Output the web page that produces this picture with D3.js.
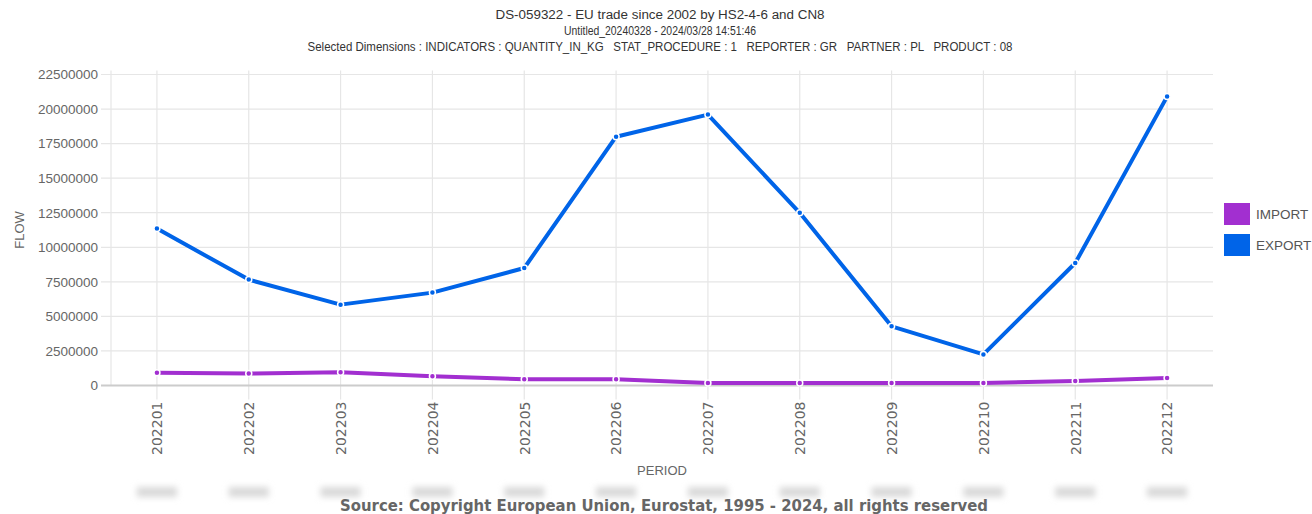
<!DOCTYPE html>
<html>
<head>
<meta charset="utf-8">
<script src="https://cdn.jsdelivr.net/npm/d3@7"></script>
<style>
  body { margin: 0; background: #fff; }
  svg { display: block; }
  .title text { white-space: pre; }
</style>
</head>
<body>
<div id="chart"></div>
<script>
// chart data
var periods = ["202201","202202","202203","202204","202205","202206","202207","202208","202209","202210","202211","202212"];
var importValues = [930000, 860000, 960000, 670000, 450000, 450000, 180000, 180000, 180000, 180000, 330000, 540000];
var exportValues = [11350000, 7660000, 5850000, 6720000, 8500000, 18000000, 19600000, 12490000, 4280000, 2250000, 8860000, 20900000];
var yTicks = [0, 2500000, 5000000, 7500000, 10000000, 12500000, 15000000, 17500000, 20000000, 22500000];
var seriesNames = ["IMPORT", "EXPORT"];
var seriesColors = ["#a22fd0", "#0064e8"];
var titleLines = [
  "DS-059322 - EU trade since 2002 by HS2-4-6 and CN8",
  "Untitled_20240328 - 2024/03/28 14:51:46",
  "Selected Dimensions : INDICATORS : QUANTITY_IN_KG   STAT_PROCEDURE : 1   REPORTER : GR   PARTNER : PL   PRODUCT : 08"
];

var svgWidth = 1312, svgHeight = 514;
var margin = { top: 74.5, right: 99, bottom: 128.5, left: 111 };
var width = svgWidth - margin.left - margin.right;
var height = svgHeight - margin.top - margin.bottom;

var svg = d3.select("#chart").append("svg")
  .attr("width", svgWidth).attr("height", svgHeight);

var defs = svg.append("defs");
defs.append("filter").attr("id", "blur")
  .attr("x", "-50%").attr("y", "-100%").attr("width", "200%").attr("height", "300%")
  .append("feGaussianBlur").attr("stdDeviation", 3);

// title
svg.append("g").attr("class", "title").selectAll("text")
  .data(titleLines)
  .enter().append("text")
  .attr("x", 660)
  .attr("y", (d, i) => 19 + i * 16)
  .attr("text-anchor", "middle")
  .attr("font-family", "'Liberation Sans Narrow', 'Arial Narrow', 'Liberation Sans', sans-serif")
  .attr("font-size", "12px")
  .attr("fill", "#333")
  .attr("textLength", (d, i) => [329, 192, 705][i])
  .attr("lengthAdjust", "spacingAndGlyphs")
  .text(d => d);

var chartGroup = svg.append("g")
  .attr("transform", `translate(${margin.left}, ${margin.top})`);

var x = d3.scalePoint().domain(periods).range([0, width]).padding(0.5);
var y = d3.scaleLinear().domain([0, 22500000]).range([height, 0]);

// horizontal grid
chartGroup.append("g").selectAll("line")
  .data(yTicks.slice(1))
  .enter().append("line")
  .attr("x1", -10).attr("x2", width)
  .attr("y1", d => y(d)).attr("y2", d => y(d))
  .attr("stroke", "#e6e6e6").attr("stroke-width", 1.2);

// vertical grid
chartGroup.append("g").selectAll("line")
  .data(periods)
  .enter().append("line")
  .attr("x1", d => x(d)).attr("x2", d => x(d))
  .attr("y1", -4).attr("y2", height + 14)
  .attr("stroke", "#e6e6e6").attr("stroke-width", 1.2);

chartGroup.append("line")
  .attr("x1", 0).attr("x2", 0).attr("y1", -4).attr("y2", height)
  .attr("stroke", "#e6e6e6").attr("stroke-width", 1.2);

// y axis labels
var yAxis = d3.axisLeft(y).tickValues(yTicks).tickSize(0).tickPadding(13).tickFormat(d3.format("d"));
var yAxisG = chartGroup.append("g").call(yAxis);
yAxisG.select(".domain").remove();
yAxisG.selectAll("text")
  .attr("font-family", "'Liberation Sans', Arial, sans-serif")
  .attr("font-size", "13.5px")
  .attr("fill", "#666");

// x axis line
chartGroup.append("line")
  .attr("x1", -10).attr("x2", width)
  .attr("y1", height).attr("y2", height)
  .attr("stroke", "#ccc").attr("stroke-width", 2);

// x axis labels
var xAxis = d3.axisBottom(x).tickSize(0).tickPadding(0);
var xAxisG = chartGroup.append("g").attr("transform", `translate(0, ${height})`).call(xAxis);
xAxisG.select(".domain").remove();
xAxisG.selectAll("text")
  .attr("transform", "rotate(-90)")
  .attr("text-anchor", "end")
  .attr("x", -16)
  .attr("y", 0)
  .attr("dy", "0.35em")
  .attr("font-family", "'DejaVu Sans', sans-serif")
  .attr("font-size", "14px")
  .attr("fill", "#666");

// axis titles
svg.append("text")
  .attr("transform", "translate(24, 230) rotate(-90)")
  .attr("text-anchor", "middle")
  .attr("font-family", "'Liberation Sans', Arial, sans-serif")
  .attr("font-size", "13px")
  .attr("fill", "#666")
  .text("FLOW");

svg.append("text")
  .attr("x", 662).attr("y", 475)
  .attr("text-anchor", "middle")
  .attr("font-family", "'Liberation Sans', Arial, sans-serif")
  .attr("font-size", "13px")
  .attr("fill", "#666")
  .text("PERIOD");

// blurred blobs below x labels
svg.append("g").selectAll("rect")
  .data(periods)
  .enter().append("rect")
  .attr("x", d => margin.left + x(d) - 20)
  .attr("y", 487)
  .attr("width", 40).attr("height", 10)
  .attr("fill", "#d9d9d9")
  .attr("filter", "url(#blur)");

// lines
var allSeries = [importValues, exportValues];
var line = d3.line()
  .x((d, i) => x(periods[i]))
  .y(d => y(d));

allSeries.forEach(function(values, s) {
  chartGroup.append("path")
    .datum(values)
    .attr("d", line)
    .attr("fill", "none")
    .attr("stroke", seriesColors[s])
    .attr("stroke-width", 4)
    .attr("stroke-linejoin", "round");

  chartGroup.append("g").selectAll("circle")
    .data(values)
    .enter().append("circle")
    .attr("cx", (d, i) => x(periods[i]))
    .attr("cy", d => y(d))
    .attr("r", 3)
    .attr("fill", seriesColors[s])
    .attr("stroke", "#fff")
    .attr("stroke-width", 1.5);
});

// legend
var legend = svg.append("g").attr("transform", "translate(1224, 203)");
var legendItem = legend.selectAll("g")
  .data(seriesNames)
  .enter().append("g")
  .attr("transform", (d, i) => `translate(0, ${i * 31})`);
legendItem.append("rect")
  .attr("width", 26).attr("height", 22)
  .attr("fill", (d, i) => seriesColors[i]);
legendItem.append("text")
  .attr("x", 32).attr("y", 11)
  .attr("dy", "0.35em")
  .attr("font-family", "'Liberation Sans', Arial, sans-serif")
  .attr("font-size", "13.5px")
  .attr("fill", "#555")
  .text(d => d);

// source
svg.append("text")
  .attr("x", 664).attr("y", 511)
  .attr("text-anchor", "middle")
  .attr("font-family", "'DejaVu Sans', sans-serif")
  .attr("font-size", "15px")
  .attr("font-weight", "bold")
  .attr("fill", "#666")
  .attr("textLength", 648)
  .attr("lengthAdjust", "spacingAndGlyphs")
  .text("Source: Copyright European Union, Eurostat, 1995 - 2024, all rights reserved");
</script>
</body>
</html>
